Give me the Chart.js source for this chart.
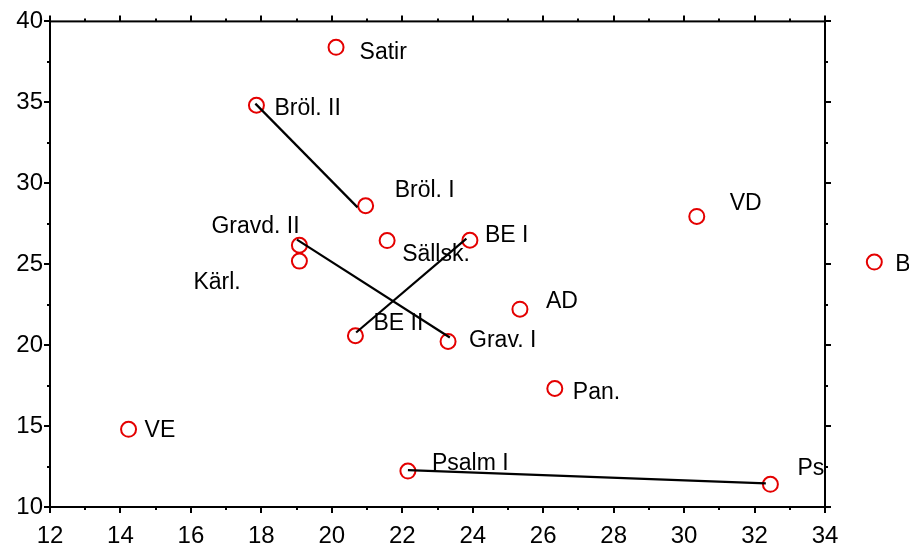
<!DOCTYPE html>
<html>
<head>
<meta charset="utf-8">
<script src="https://cdn.jsdelivr.net/npm/chart.js@4.4.0/dist/chart.umd.min.js"></script>
<style>
html,body{margin:0;padding:0;background:#fff;}
canvas{display:block;}
</style>
</head>
<body>
<canvas id="c" width="909" height="550"></canvas>
<script>
// ---- data ----
const names   = ['Satir','Bröl. II','Bröl. I','VD','Gravd. II','Kärl.','Sällsk.','BE I','AD','BE II','Grav. I','Pan.','VE','Psalm I','Psalm II','B'];
const xValues = [20.12, 17.86, 20.96, 30.36, 19.08, 19.08, 21.57, 23.92, 25.34, 20.67, 23.30, 26.33, 14.23, 22.16, 32.45, 35.40];
const yValues = [38.40, 34.82, 28.61, 27.95, 26.17, 25.19, 26.46, 26.48, 22.22, 20.58, 20.23, 17.32, 14.80, 12.22, 11.40, 25.13];

// connecting lines
const brolLineX  = [17.83, 20.73];
const brolLineY  = [34.92, 28.51];
const gravLineX  = [19.01, 23.35];
const gravLineY  = [26.52, 20.47];
const beLineX    = [20.69, 23.82];
const beLineY    = [20.78, 26.58];
const psalmLineX = [22.16, 32.32];
const psalmLineY = [12.28, 11.46];

const xTicks = [12,14,16,18,20,22,24,26,28,30,32,34];
const yTicks = [10,15,20,25,30,35,40];

// label placement (pixels relative to point; baseline offset)
const labelDx = [23.5, 18, 29, 33, -88, -106, 15, 15, 26, 18, 21, 18, 16, 24, 27, 21];
const labelDy = [12, 10, -9, -6, -12, 28, 20, 2, -1, -6, 6, 10, 8, -1, -9, 9];
const labelClip = [false,false,false,false,false,false,false,false,false,false,false,false,false,false,true,false];

const FONT = '"Liberation Sans", Arial, sans-serif';
const RED = 'rgb(228,0,0)';
const R = 7.5;

function pts(xs, ys){ return xs.map((x,i)=>({x:x, y:ys[i]})); }

const lineStyle = {showLine:true, borderColor:'#000', borderWidth:2.2, pointRadius:0, fill:false, clip:false};

const framePlugin = {
  id:'frame',
  beforeDatasetsDraw(chart){
    const {ctx, chartArea:a, scales} = chart;
    const xs = scales.x, ys = scales.y;
    ctx.save();
    ctx.strokeStyle = '#000';
    ctx.lineWidth = 2;
    ctx.strokeRect(a.left, a.top, a.right - a.left, a.bottom - a.top);
    ctx.beginPath();
    for (let v = 12; v <= 34; v += 1) {
      const p = Math.round(xs.getPixelForValue(v));
      const L = (v % 2 === 0) ? 6 : 3;
      ctx.moveTo(p, a.bottom); ctx.lineTo(p, a.bottom + L);
      ctx.moveTo(p, a.top); ctx.lineTo(p, a.top - L);
    }
    for (let v = 10; v <= 40; v += 2.5) {
      const p = Math.round(ys.getPixelForValue(v));
      const L = (v % 5 === 0) ? 6 : 3;
      ctx.moveTo(a.left, p); ctx.lineTo(a.left - L, p);
      ctx.moveTo(a.right, p); ctx.lineTo(a.right + L, p);
    }
    ctx.stroke();
    ctx.restore();
  },
  afterDatasetsDraw(chart){
    const {ctx, chartArea:a, scales} = chart;
    ctx.save();
    // points lying outside the plot area (the library skips them)
    ctx.strokeStyle = RED;
    ctx.lineWidth = 2;
    xValues.forEach((x,i)=>{
      if (x < scales.x.min || x > scales.x.max || yValues[i] < scales.y.min || yValues[i] > scales.y.max) {
        const px = scales.x.getPixelForValue(x);
        const py = scales.y.getPixelForValue(yValues[i]);
        ctx.beginPath();
        ctx.arc(px, py, R, 0, Math.PI*2);
        ctx.stroke();
      }
    });
    ctx.font = '23px ' + FONT;
    ctx.fillStyle = '#000';
    ctx.textBaseline = 'alphabetic';
    ctx.textAlign = 'left';
    names.forEach((n,i)=>{
      const px = scales.x.getPixelForValue(xValues[i]);
      const py = scales.y.getPixelForValue(yValues[i]);
      ctx.save();
      if (labelClip[i]) {
        ctx.beginPath();
        ctx.rect(0, 0, a.right, chart.height);
        ctx.clip();
      }
      ctx.fillText(n, px + labelDx[i], py + labelDy[i]);
      ctx.restore();
    });
    ctx.restore();
  }
};

new Chart(document.getElementById('c'), {
  type:'scatter',
  data:{
    datasets:[
      Object.assign({data:pts(brolLineX, brolLineY)}, lineStyle),
      Object.assign({data:pts(gravLineX, gravLineY)}, lineStyle),
      Object.assign({data:pts(beLineX, beLineY)}, lineStyle),
      Object.assign({data:pts(psalmLineX, psalmLineY)}, lineStyle),
      {
        data: pts(xValues, yValues),
        pointRadius:R,
        pointBorderWidth:2,
        pointBorderColor:RED,
        pointBackgroundColor:'rgba(0,0,0,0)',
        showLine:false,
        clip:false
      }
    ]
  },
  options:{
    responsive:false,
    devicePixelRatio:1,
    animation:false,
    events:[],
    layout:{padding:{top:19, right:84, left:0, bottom:0}},
    plugins:{legend:{display:false}, tooltip:{enabled:false}},
    scales:{
      x:{
        type:'linear', min:12, max:34,
        afterBuildTicks(s){ s.ticks = xTicks.map(v=>({value:v})); },
        afterFit(s){ s.height = 43; },
        grid:{display:false, drawTicks:false},
        border:{display:false},
        ticks:{font:{size:24, family:FONT}, color:'#000', padding:15, maxRotation:0}
      },
      y:{
        type:'linear', min:10, max:40,
        afterBuildTicks(s){ s.ticks = yTicks.map(v=>({value:v})); },
        afterFit(s){ s.width = 50; },
        grid:{display:false, drawTicks:false},
        border:{display:false},
        ticks:{font:{size:24, family:FONT}, color:'#000', padding:7}
      }
    }
  },
  plugins:[framePlugin]
});
</script>
</body>
</html>
